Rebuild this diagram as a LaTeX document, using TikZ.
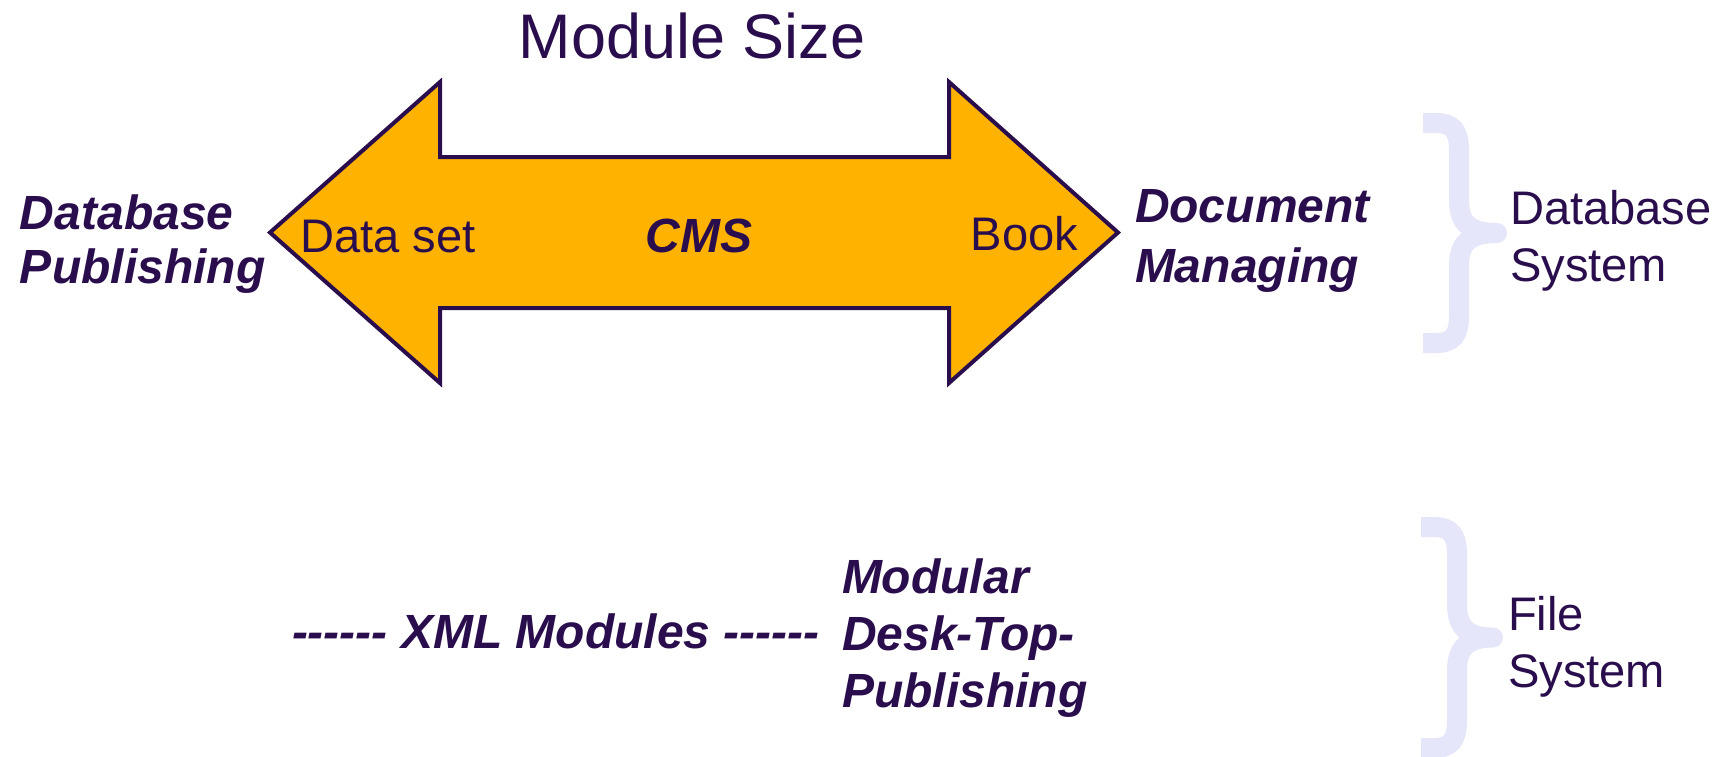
\documentclass[tikz,border=0pt]{standalone}
\usepackage{fontspec}
\setmainfont{Liberation Sans}
\definecolor{ink}{HTML}{2A0D4D}
\definecolor{arrowfill}{HTML}{FFB300}
\definecolor{bracecol}{HTML}{E6E6FA}
\begin{document}
\begin{tikzpicture}[x=0.01cm,y=-0.01cm,
  txt/.style={inner sep=0pt,outer sep=0pt,text=ink,font=\fontsize{13.4pt}{16.2pt}\selectfont,align=left},
  bitxt/.style={txt,font=\fontsize{13.65pt}{16.2pt}\selectfont\bfseries\itshape},
  bracestyle/.style={draw=bracecol,line width=0.2cm,line cap=butt,line join=round},
  bigarrow/.style={draw=ink,fill=arrowfill,line width=0.4mm,line join=miter}]
\useasboundingbox (0,0) rectangle (1726,756);
% double arrow
\draw[bigarrow] (270,232.5) -- (440,82) -- (440,157) -- (949,157) -- (949,82)
  -- (1118,232.5) -- (949,383) -- (949,308) -- (440,308) -- (440,383) -- cycle;
% title
\node[txt,font=\fontsize{17.9pt}{21pt}\selectfont,anchor=base] (title) at (692,58) {Module Size};
% arrow labels
\node[txt,anchor=base west] (dataset) at (300,252) {Data set};
\node[bitxt,anchor=base] (cms) at (699,252) {CMS};
\node[txt,anchor=base east] (book) at (1078,250) {Book};
% side labels (base anchor = baseline of last line)
\node[bitxt,anchor=base west,font=\fontsize{13.65pt}{15.1pt}\selectfont\bfseries\itshape] (dbpub) at (20,283) {Database\\Publishing};
\node[bitxt,anchor=base west,font=\fontsize{13.65pt}{16.8pt}\selectfont\bfseries\itshape] (docman) at (1135,282) {Document\\Managing};
\node[txt,anchor=base west] (dbsys) at (1510,281) {Database\\System};
% bottom row
\node[bitxt,anchor=base west] (xml) at (292,648) {-{}-{}-{}-{}-{}- XML Modules -{}-{}-{}-{}-{}-};
\node[bitxt,anchor=base west] (mdtp) at (842,707) {Modular\\Desk-Top-\\Publishing};
\node[txt,anchor=base west] (filesys) at (1508,687) {File\\System};
% braces
\draw[bracestyle] (1423,123) -- (1436,123) .. controls (1452,123) and (1459,130) .. (1459,150)
  -- (1459,200) .. controls (1459,222) and (1468,233) .. (1497,233)
  .. controls (1468,233) and (1459,244) .. (1459,266) -- (1459,316)
  .. controls (1459,336) and (1452,343) .. (1436,343) -- (1423,343);
\draw[bracestyle] (1421,527) -- (1434,527) .. controls (1450,527) and (1457,534) .. (1457,554)
  -- (1457,604) .. controls (1457,626) and (1466,637.5) .. (1493,637.5)
  .. controls (1466,637.5) and (1457,649) .. (1457,671) -- (1457,721)
  .. controls (1457,741) and (1450,748) .. (1434,748) -- (1421,748);
\end{tikzpicture}
\end{document}
